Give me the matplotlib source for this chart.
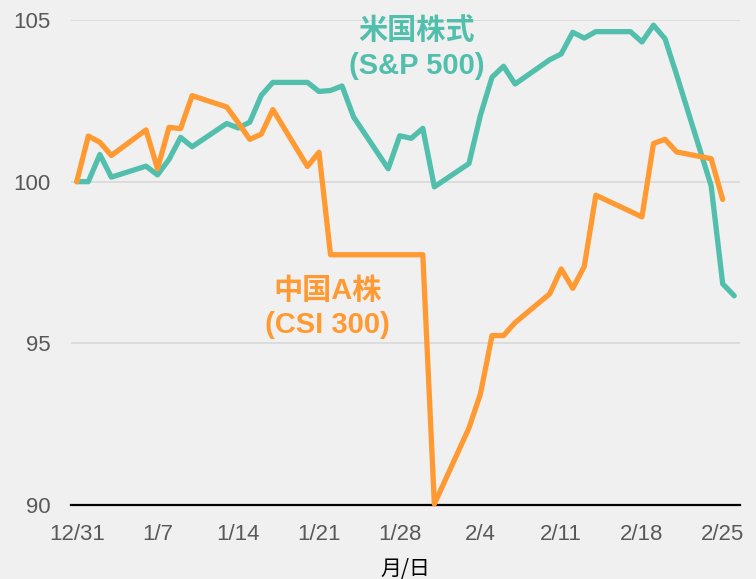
import pandas as pd
import matplotlib.pyplot as plt

plt.switch_backend('agg')

# trading dates (union of both markets), indexed to 12/31 = 100
dates = ["2019-12-31", "2020-01-01", "2020-01-02", "2020-01-03", "2020-01-06",
         "2020-01-07", "2020-01-08", "2020-01-09", "2020-01-10", "2020-01-13",
         "2020-01-14", "2020-01-15", "2020-01-16", "2020-01-17", "2020-01-20",
         "2020-01-21", "2020-01-22", "2020-01-23", "2020-01-24", "2020-01-27",
         "2020-01-28", "2020-01-29", "2020-01-30", "2020-01-31", "2020-02-03",
         "2020-02-04", "2020-02-05", "2020-02-06", "2020-02-07", "2020-02-10",
         "2020-02-11", "2020-02-12", "2020-02-13", "2020-02-14", "2020-02-17",
         "2020-02-18", "2020-02-19", "2020-02-20", "2020-02-21", "2020-02-24",
         "2020-02-25", "2020-02-26"]

sp500 = [100.0, 100.0, 100.84, 100.14, 100.48, 100.21, 100.69, 101.37, 101.08, 101.8,
         101.66, 101.84, 102.67, 103.07, 103.07, 102.79, 102.82, 102.96, 102.0, 100.4,
         101.42, 101.34, 101.65, 99.84, 100.56, 102.06, 103.23, 103.57, 103.02, 103.77,
         103.95, 104.62, 104.44, 104.64, 104.64, 104.32, 104.84, 104.42, 103.31, 99.87,
         96.84, 96.47]

# CSI 300 has no value for the last date
csi300 = [100.0, 101.41, 101.22, 100.81, 101.6, 100.4, 101.68, 101.64, 102.66, 102.31,
          101.82, 101.31, 101.47, 102.23, 100.47, 100.91, 97.74, 97.74, 97.74, 97.74,
          97.74, 97.74, 97.74, 90.03, 92.38, 93.44, 95.24, 95.24, 95.64, 96.53,
          97.3, 96.7, 97.38, 99.58, 99.08, 98.91, 101.18, 101.31, 100.92, 100.71,
          99.45]

x_ticks = ["2019-12-31", "2020-01-07", "2020-01-14", "2020-01-21", "2020-01-28",
           "2020-02-04", "2020-02-11", "2020-02-18", "2020-02-25"]
x_tick_labels = ["12/31", "1/7", "1/14", "1/21", "1/28", "2/4", "2/11", "2/18", "2/25"]
y_ticks = [90, 95, 100, 105]

teal = '#52BFAD'
orange = '#FF9A33'
bg = '#F0F0F0'
lab_font = ['Liberation Sans', 'Noto Sans CJK JP']

d = pd.to_datetime(dates)

fig = plt.figure(figsize=(7.56, 5.79), dpi=100, facecolor=bg)
ax = fig.add_axes([71 / 756, 1 - 505 / 579, 669 / 756, 485 / 579], facecolor=bg)

line_kw = dict(lw=3.8, solid_joinstyle='round', solid_capstyle='round', clip_on=False, zorder=3)
ax.plot(d, sp500, color=teal, **line_kw)
ax.plot(d[:len(csi300)], csi300, color=orange, **line_kw)

ax.set_xlim(d[0] - pd.Timedelta(hours=12), d[-1] + pd.Timedelta(hours=12))
ax.set_ylim(90, 105)

ax.set_xticks(pd.to_datetime(x_ticks))
ax.set_xticklabels(x_tick_labels)
ax.set_yticks(y_ticks)
ax.tick_params(axis='both', length=0, labelsize=16, labelcolor='#595959')
ax.tick_params(axis='x', pad=14)
ax.tick_params(axis='y', pad=15)
for t in ax.get_xticklabels() + ax.get_yticklabels():
    t.set_family(lab_font)

ax.grid(axis='y', color='#D9D9D9', lw=1.2)
ax.set_axisbelow(True)
for s in ['top', 'right', 'left']:
    ax.spines[s].set_visible(False)
ax.spines['bottom'].set_color('black')
ax.spines['bottom'].set_linewidth(1.6)
ax.spines['bottom'].set_zorder(2)

ax.set_xlabel("月/日", family=['Noto Sans CJK JP', 'DejaVu Sans'], fontsize=15,
              color='black', labelpad=9)

# series labels
ax.text(0.517, 0.978, "米国株式", transform=ax.transAxes, ha='center', va='center',
        fontsize=21, fontweight='bold', color=teal, family=lab_font)
ax.text(0.517, 0.906, "(S&P 500)", transform=ax.transAxes, ha='center', va='center',
        fontsize=21, fontweight='bold', color=teal, family=lab_font)
ax.text(0.384, 0.4417, "中国A株", transform=ax.transAxes, ha='center', va='center',
        fontsize=21, fontweight='bold', color=orange, family=lab_font)
ax.text(0.384, 0.3705, "(CSI 300)", transform=ax.transAxes, ha='center', va='center',
        fontsize=21, fontweight='bold', color=orange, family=lab_font)

fig.savefig('out.png', dpi=100, facecolor=bg)
